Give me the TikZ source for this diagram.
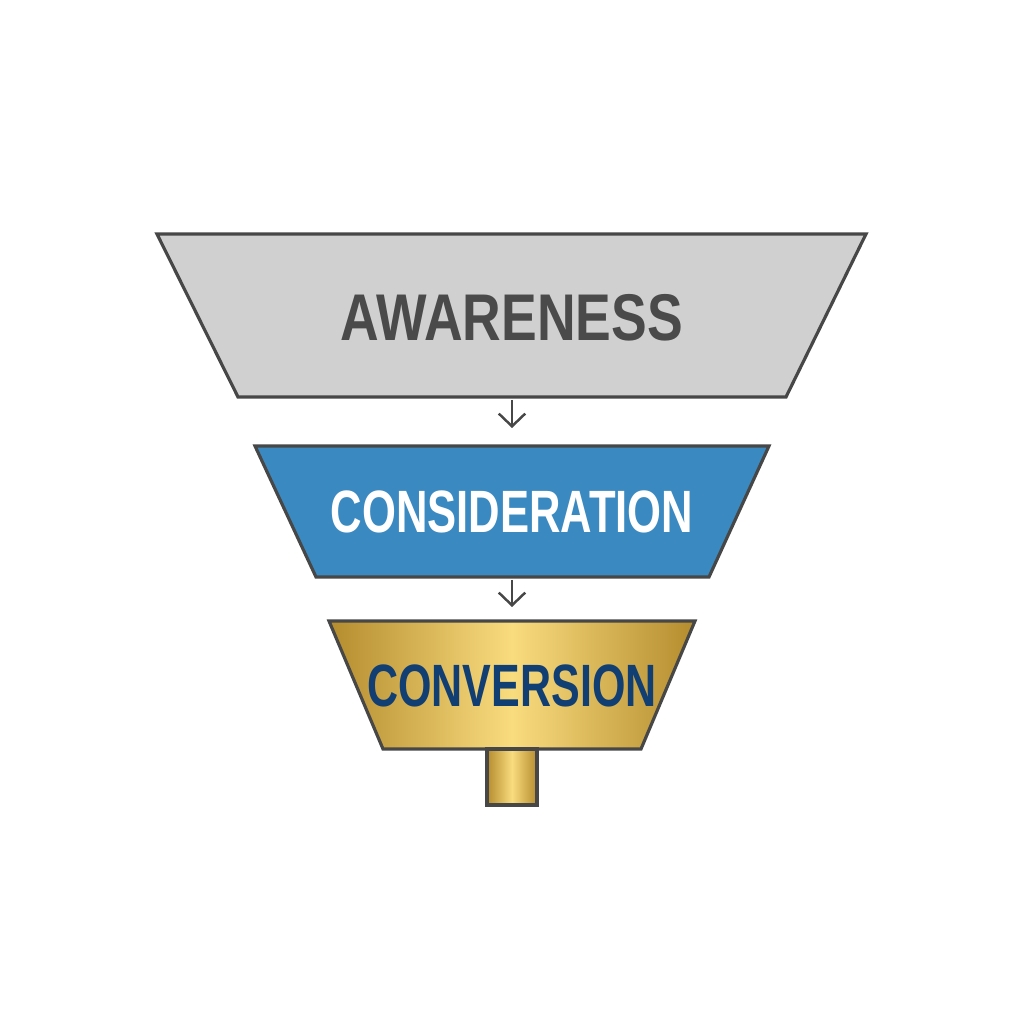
\documentclass[tikz,border=0pt]{standalone}
\usepackage{fontspec}
\setmainfont{Liberation Sans}
\usetikzlibrary{arrows.meta}
\definecolor{stagegray}{HTML}{D0D0D0}
\definecolor{graytext}{HTML}{4A4A4A}
\definecolor{stageblue}{HTML}{3A8AC1}
\definecolor{golddark}{HTML}{B48C2E}
\definecolor{goldlight}{HTML}{F9DC7E}
\definecolor{navytext}{HTML}{123F73}
\definecolor{edge}{HTML}{474747}
\newcommand{\narrow}[2]{\scalebox{#1}[1]{#2}}
\begin{document}
\begin{tikzpicture}[stage/.style={draw=edge,line width=0.9pt,line join=miter},
  flow/.style={draw=edge,line width=0.7pt,-{Straight Barb[length=3.6pt,width=7.5pt]}},
  gold/.style={left color=golddark,right color=golddark,middle color=goldlight}]
\useasboundingbox (0,0) rectangle (10.24,10.24);
\draw[stage,fill=stagegray] (1.57,7.90) -- (8.66,7.90) -- (7.86,6.27) -- (2.38,6.27) -- cycle;
\draw[stage,fill=stageblue] (2.55,5.78) -- (7.69,5.78) -- (7.09,4.47) -- (3.16,4.47) -- cycle;
\draw[stage,gold] (3.29,4.03) -- (6.95,4.03) -- (6.41,2.75) -- (3.83,2.75) -- cycle;
\draw[stage,gold] (4.87,2.75) rectangle (5.37,2.19);
\node at (5.12,7.06) (A) {\fontsize{18.8}{20}\selectfont\bfseries\color{graytext}\narrow{0.81}{AWARENESS}};
\node at (5.12,5.12) (B) {\fontsize{17}{19}\selectfont\bfseries\color{white}\narrow{0.73}{CONSIDERATION}};
\node at (5.12,3.38) (C) {\fontsize{17}{19}\selectfont\bfseries\color{navytext}\narrow{0.72}{CONVERSION}};
\coordinate (a1) at (5.12,6.24);
\coordinate (b0) at (5.12,5.96);
\coordinate (b1) at (5.12,4.44);
\coordinate (c0) at (5.12,4.17);
\draw[flow] (a1) -- (b0);
\draw[flow] (b1) -- (c0);
\end{tikzpicture}
\end{document}
